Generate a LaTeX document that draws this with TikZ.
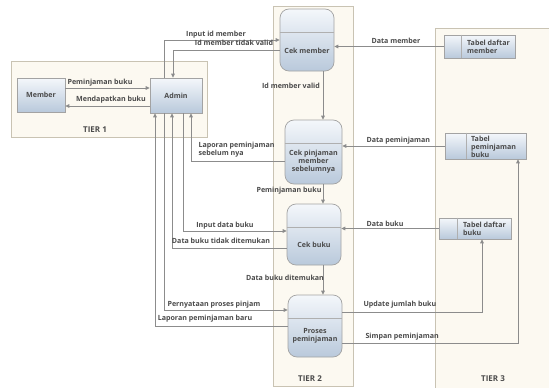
\documentclass[tikz,border=0pt]{standalone}
\usepackage{fontspec}
\setmainfont{Open Sans}
\usetikzlibrary{positioning}
\usetikzlibrary{arrows.meta}
\definecolor{tierfill}{HTML}{FCF9F1}
\definecolor{tierline}{HTML}{C9C3B3}
\definecolor{boxtop}{HTML}{F4F7FB}
\definecolor{boxbottom}{HTML}{B9C9DB}
\definecolor{flowline}{HTML}{8C8C8C}
\definecolor{labeltext}{HTML}{4A4A4A}

\begin{document}
\begin{tikzpicture}[x = 1pt, y = -1pt,
		font = \fontsize{7.1}{8}\selectfont\bfseries, text = labeltext,
		>= {Triangle[length = 4pt, width = 3.6pt]},
		tier/.style = {draw = tierline, fill = tierfill, line width = 0.8pt},
		entity/.style = {draw = flowline!80, top color = boxtop, bottom color = boxbottom, inner sep = 0pt, line width = 0.7pt},
		proc/.style = {entity, rounded corners = 9pt},
		store/.style = {entity},
		flow/.style = {draw = flowline, line width = 0.9pt, ->},
		divider/.style = {draw = flowline!70, line width = 0.6pt}]
					\useasboundingbox (0, 0) rectangle (549, 388);
					\draw [tier] (11, 61) rectangle (207, 137);
					\draw [tier] (273, 6) rectangle (353, 386);
					\draw [tier] (435, 28) rectangle (556, 394);
					\node (tier1) at (95, 130) {\fontsize{8}{9}\selectfont TIER 1};
					\node (tier2) at (310, 379) {\fontsize{8}{9}\selectfont TIER 2};
					\node (tier3) at (493, 379) {\fontsize{8}{9}\selectfont TIER 3};
					\node [entity, minimum width = 48pt, minimum height = 34pt] (member) at (41, 95) {Member};
					\node [entity, minimum width = 52pt, minimum height = 35pt] (admin) at (176, 95.5) {Admin};
					\node [proc, minimum width = 54pt, minimum height = 62pt, label = {[yshift = -11pt]center:Cek member}] (cekmember) at (307, 40) {};
					\node [proc, minimum width = 57pt, minimum height = 64pt, label = {[yshift = -10pt, align = center]center:Cek pinjaman\\member\\sebelumnya}] (cekpinjam) at (313.5, 152) {};
					\node [proc, minimum width = 54pt, minimum height = 61pt, label = {[yshift = -10.5pt]center:Cek buku}] (cekbuku) at (314, 234.5) {};
					\node [proc, minimum width = 54pt, minimum height = 62pt, label = {[yshift = -9.5pt, align = center]center:Proses\\peminjaman}] (proses) at (315, 326) {};
					\draw [divider] ([yshift = 8pt]cekmember.west) -- ([yshift = 8pt]cekmember.east);
					\draw [divider] ([yshift = 9pt]cekpinjam.west) -- ([yshift = 9pt]cekpinjam.east);
					\draw [divider] ([yshift = 7.5pt]cekbuku.west) -- ([yshift = 7.5pt]cekbuku.east);
					\draw [divider] ([yshift = 8pt]proses.west) -- ([yshift = 8pt]proses.east);
					\node [store, minimum width = 71pt, minimum height = 23pt] (tabmember) at (479.5, 46.5) {};
					\node [store, minimum width = 81pt, minimum height = 26pt] (tabpinjam) at (485.5, 146) {};
					\node [store, minimum width = 72pt, minimum height = 21pt] (tabbuku) at (475, 228.5) {};
					\draw [divider] ([xshift = 18pt]tabmember.north west) -- ([xshift = 18pt]tabmember.south west);
					\draw [divider] ([xshift = 22pt]tabpinjam.north west) -- ([xshift = 22pt]tabpinjam.south west);
					\draw [divider] ([xshift = 19pt]tabbuku.north west) -- ([xshift = 19pt]tabbuku.south west);
					\node at ([xshift = 20pt]tabmember.west) [anchor = west, align = left] (tabmembertext) {Tabel daftar\\member};
					\node at ([xshift = 23pt, yshift = -1pt]tabpinjam.west) [anchor = west, align = left] (tabpinjamtext) {Tabel\\peminjaman\\buku};
					\node at ([xshift = 21pt]tabbuku.west) [anchor = west, align = left] (tabbukutext) {Tabel daftar\\buku};
					\draw [flow] ([yshift = 7pt]member.east) -- ([yshift = 7pt]member.east -| admin.west);
					\draw [flow] ([yshift = -10.5pt]admin.west) -- ([yshift = -10.5pt]admin.west -| member.east);
					\draw [flow] ([xshift = -12pt]admin.north) |- (cekmember.west);
					\draw [flow] ([yshift = -10pt]cekmember.west) -| ([xshift = -3pt]admin.north);
					\draw [flow] (tabmember.west) -- (tabmember.west -| cekmember.east);
					\draw [flow] ([xshift = 16pt]cekmember.south) -- ([xshift = 16pt]cekmember.south |- cekpinjam.north);
					\draw [flow] (tabpinjam.west) -- (tabpinjam.west -| cekpinjam.east);
					\draw [flow] ([yshift = -9pt]cekpinjam.west) -| ([xshift = 15pt]admin.south);
					\draw [flow] ([xshift = 9.5pt]cekpinjam.south) -- ([xshift = 9.5pt]cekpinjam.south |- cekbuku.north);
					\draw [flow] ([xshift = 7pt]admin.south) |- ([yshift = 3.5pt]cekbuku.west);
					\draw [flow] ([yshift = -13.5pt]cekbuku.west) -| ([xshift = -4pt]admin.south);
					\draw [flow] (tabbuku.west) -- (tabbuku.west -| cekbuku.east);
					\draw [flow] ([xshift = 9pt]cekbuku.south) -- ([xshift = 9pt]cekbuku.south |- proses.north);
					\draw [flow] ([xshift = -12pt]admin.south) |- ([yshift = 16pt]proses.west);
					\draw [flow] (proses.west) -| ([xshift = -21pt]admin.south);
					\draw [flow] ([yshift = 14pt]proses.east) -| ([xshift = 7pt]tabbuku.south);
					\draw [flow] ([yshift = -17pt]proses.east) -| ([xshift = 32.5pt]tabpinjam.south);
					\node at (100, 83) (lpinjambuku) {Peminjaman buku};
					\node at (111, 100) (ldapatbuku) {Mendapatkan buku};
					\node at (216, 35) (linputid) {Input id member};
					\node at (234, 43) (lidtidak) {Id member tidak valid};
					\node at (368, 41) [anchor = west] (ldatamember) {Data member};
					\node at (291, 86) (lidvalid) {Id member valid};
					\node at (195, 150) [anchor = west, align = left] (llaporanlama) {Laporan peminjaman\\sebelum nya};
					\node at (363, 141) [anchor = west] (ldatapinjam) {Data peminjaman};
					\node at (289, 191) (lpinjamlanjut) {Peminjaman buku};
					\node at (225, 226) (linputbuku) {Input data buku};
					\node at (221, 241) (ltidakada) {Data buku tidak ditemukan};
					\node at (363, 224) [anchor = west] (ldatabuku) {Data buku};
					\node at (285, 278) (lditemukan) {Data buku ditemukan};
					\node at (214, 305) (lpernyataan) {Pernyataan proses pinjam};
					\node at (205, 319) (llaporanbaru) {Laporan peminjaman baru};
					\node at (360, 305) [anchor = west] (lupdate) {Update jumlah buku};
					\node at (362, 337) [anchor = west] (lsimpan) {Simpan peminjaman};
				\end{tikzpicture}
\end{document}
